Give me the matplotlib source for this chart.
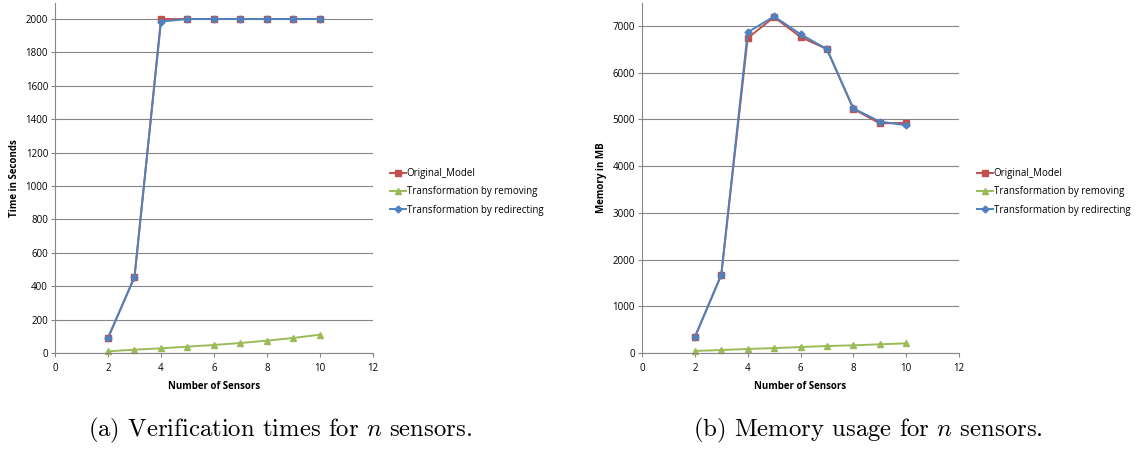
import matplotlib.pyplot as plt
from matplotlib.lines import Line2D

plt.rcParams['font.family'] = ['Open Sans', 'DejaVu Sans']
plt.rcParams['mathtext.fontset'] = 'cm'

sensors = [2, 3, 4, 5, 6, 7, 8, 9, 10]
series_names = ['Original_Model', 'Transformation by removing', 'Transformation by redirecting']

# verification time (seconds)
time_original = [90, 455, 2000, 2000, 2000, 2000, 2000, 2000, 2000]
time_removing = [10, 20, 28, 38, 48, 60, 74, 90, 110]
time_redirecting = [90, 455, 1985, 2000, 2000, 2000, 2000, 2000, 2000]

# memory usage (MB)
mem_original = [340, 1670, 6740, 7190, 6765, 6505, 5225, 4915, 4925]
mem_removing = [43, 64, 86, 105, 128, 150, 164, 186, 207]
mem_redirecting = [340, 1670, 6865, 7205, 6825, 6505, 5235, 4955, 4875]

colors = ['#C0504D', '#9BBB59', '#4F81BD']
markers = ['s', '^', 'D']
msizes = [5, 5, 3.5]
grid_col = '#868686'

fig = plt.figure(figsize=(11.4, 4.55), dpi=100)
W, H = 1140, 455


def make_axes(x0, x1, y0, y1):
    return fig.add_axes([x0 / W, 1 - y1 / H, (x1 - x0) / W, (y1 - y0) / H])


def style(ax, ymax, ystep, ytop, ylabel):
    ax.set_xlim(0, 12)
    ax.set_ylim(0, ytop)
    ax.set_xticks(range(0, 13, 2))
    ax.set_yticks(range(0, ymax + 1, ystep))
    for s in ['top', 'right']:
        ax.spines[s].set_visible(False)
    for s in ['left', 'bottom']:
        ax.spines[s].set_color(grid_col)
        ax.spines[s].set_linewidth(0.8)
    ax.yaxis.grid(True, color=grid_col, linewidth=0.8)
    ax.set_axisbelow(True)
    ax.tick_params(axis='both', labelsize=7, color=grid_col, length=3, width=0.8, pad=2)
    ax.tick_params(axis='x', pad=4)
    ax.set_xlabel('Number of Sensors', fontsize=7, fontweight='bold', labelpad=5)
    ax.set_ylabel(ylabel, fontsize=7, fontweight='bold', labelpad=4)


def draw(ax, data):
    for vals, c, m, ms in zip(data, colors, markers, msizes):
        ax.plot(sensors, vals, color=c, marker=m, markersize=ms, linewidth=1.4,
                markeredgecolor=c, clip_on=False)


ax1 = make_axes(55, 373, 3, 353)
draw(ax1, [time_original, time_removing, time_redirecting])
style(ax1, 2000, 200, 2096, 'Time in Seconds')

ax2 = make_axes(642, 959, 3, 353)
draw(ax2, [mem_original, mem_removing, mem_redirecting])
style(ax2, 7000, 1000, 7492, 'Memory in MB')

handles = [Line2D([], [], color=c, marker=m, markersize=ms, linewidth=1.4)
           for c, m, ms in zip(colors, markers, msizes)]
for x in [390, 977]:
    fig.legend(handles, series_names, loc='upper left', bbox_to_anchor=(x / W, 1 - 168 / H),
               frameon=False, fontsize=7, handlelength=1.6, handletextpad=0.1,
               labelspacing=0.75, borderaxespad=0, borderpad=0)

cap_kw = dict(fontsize=17.8, family='cmr10', ha='center', va='center')
fig.text(280 / W, 1 - 430 / H, '(a) Verification times for $n$ sensors.', **cap_kw)
fig.text(868 / W, 1 - 430 / H, '(b) Memory usage for $n$ sensors.', **cap_kw)

fig.savefig('out.png', dpi=100)
